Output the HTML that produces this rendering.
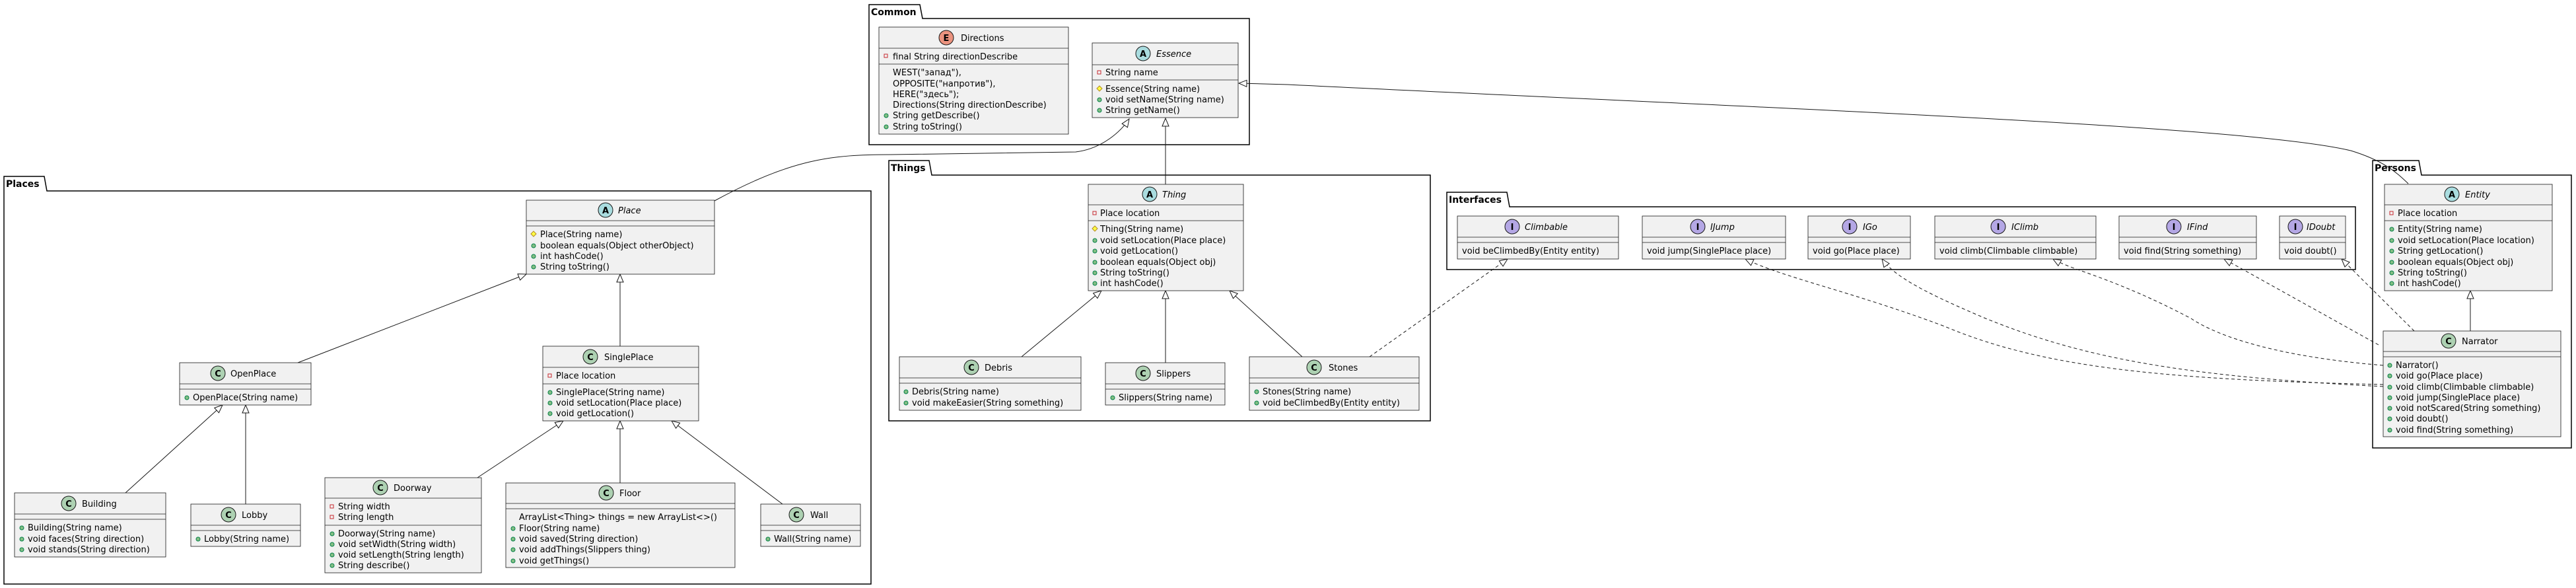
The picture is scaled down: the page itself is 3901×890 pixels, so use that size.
<!DOCTYPE html>
<html><head><meta charset="utf-8"><style>
html,body{margin:0;padding:0;background:#fff}
svg{display:block}
text{font-family:"DejaVu Sans","Liberation Sans",sans-serif;font-size:13px;fill:#000}
.pk{font-weight:bold;font-size:14px}
.it{font-style:italic}
.cls{fill:#F1F1F1;stroke:#181818;stroke-width:0.8}
.sep{stroke:#181818;stroke-width:0.8}
.pkg{fill:none;stroke:#000;stroke-width:1.5}
.pub{fill:#84BE84;stroke:#038048;stroke-width:1}
.pri{fill:none;stroke:#C82930;stroke-width:1}
.pro{fill:#FFFF44;stroke:#B38D22;stroke-width:1}
.ln{fill:none;stroke:#181818;stroke-width:1}
.dl{fill:none;stroke:#181818;stroke-width:1;stroke-dasharray:5,4}
.ic{font-weight:bold;font-size:13px;text-anchor:middle}
</style></head><body>
<svg width="3901" height="890" viewBox="0 0 3901 890" xmlns="http://www.w3.org/2000/svg">
<defs>
<marker id="tri" markerWidth="14" markerHeight="14" refX="13" refY="6" orient="auto" markerUnits="userSpaceOnUse">
<path d="M1,1 L13,6 L1,11 Z" fill="#fff" stroke="#181818" stroke-width="1"/>
</marker>
</defs>

<!-- Packages -->
<path class="pkg" d="M1316,28 V7 H1393 L1397,28 H1892 V219 H1316 Z"/>
<text class="pk" x="1319" y="23">Common</text>
<path class="pkg" d="M6,289 V267 H67 L71,289 H1319 V884 H6 Z"/>
<text class="pk" x="9" y="283">Places</text>
<path class="pkg" d="M1346,265 V243 H1407 L1411,265 H2166 V637 H1346 Z"/>
<text class="pk" x="1349" y="259">Things</text>
<path class="pkg" d="M2191,313 V291 H2282 L2286,313 H3567 V408 H2191 Z"/>
<text class="pk" x="2194" y="307">Interfaces</text>
<path class="pkg" d="M3593,265 V243 H3663 L3667,265 H3894 V678 H3593 Z"/>
<text class="pk" x="3596" y="259">Persons</text>

<!-- Connectors -->
<path class="ln" marker-end="url(#tri)" d="M1082,304 C1200,240 1260,234 1349,234 L1629,230 C1670,225 1698,198 1710,180"/>
<path class="ln" marker-end="url(#tri)" d="M1765,279 L1765,179"/>
<path class="ln" marker-end="url(#tri)" d="M3647,278 C3630,262 3612,244 3560,228 C3400,190 2700,165 1950,128 L1876,126"/>
<path class="ln" marker-end="url(#tri)" d="M451,549 L797,415"/>
<path class="ln" marker-end="url(#tri)" d="M939,524 L939,415"/>
<path class="ln" marker-end="url(#tri)" d="M190,746 L337,613"/>
<path class="ln" marker-end="url(#tri)" d="M372,763 L372,613"/>
<path class="ln" marker-end="url(#tri)" d="M723,723 L853,637"/>
<path class="ln" marker-end="url(#tri)" d="M939,731 L939,637"/>
<path class="ln" marker-end="url(#tri)" d="M1185,763 L1017,637"/>
<path class="ln" marker-end="url(#tri)" d="M1547,540 L1668,440"/>
<path class="ln" marker-end="url(#tri)" d="M1765,549 L1765,440"/>
<path class="ln" marker-end="url(#tri)" d="M1972,540 L1862,440"/>
<path class="ln" marker-end="url(#tri)" d="M3741,501 L3741,440"/>
<path class="dl" marker-end="url(#tri)" d="M2074,540 L2283,392"/>
<path class="dl" marker-end="url(#tri)" d="M3609,582 C3300,575 3100,560 2945,494 C2800,440 2700,420 2643,392"/>
<path class="dl" marker-end="url(#tri)" d="M3609,585 C3300,570 3150,540 3007,482 C2920,445 2870,420 2850,392"/>
<path class="dl" marker-end="url(#tri)" d="M3609,553 C3450,540 3360,510 3318,482 C3200,420 3140,410 3109,392"/>
<path class="dl" marker-end="url(#tri)" d="M3602,522 L3368,392"/>
<path class="dl" marker-end="url(#tri)" d="M3656,501 L3546,392"/>

<!-- Directions -->
<rect class="cls" x="1331" y="41" width="287" height="162"/>
<line class="sep" x1="1331" y1="73" x2="1618" y2="73"/><line class="sep" x1="1331" y1="97" x2="1618" y2="97"/>
<circle cx="1433" cy="57" r="11" fill="#EB937F" stroke="#181818"/><text class="ic" x="1433" y="62">E</text>
<text x="1455" y="62">Directions</text>
<rect class="pri" x="1339" y="82" width="5" height="5"/><text x="1352" y="90">final String directionDescribe</text>
<text x="1352" y="114">WEST("запад"),</text>
<text x="1352" y="131">OPPOSITE("напротив"),</text>
<text x="1352" y="147">HERE("здесь");</text>
<text x="1352" y="163">Directions(String directionDescribe)</text>
<circle class="pub" cx="1342" cy="175" r="3"/><text x="1352" y="179">String getDescribe()</text>
<circle class="pub" cx="1342" cy="192" r="3"/><text x="1352" y="196">String toString()</text>

<!-- Essence -->
<rect class="cls" x="1654" y="65" width="221" height="113"/>
<line class="sep" x1="1654" y1="98" x2="1875" y2="98"/><line class="sep" x1="1654" y1="121" x2="1875" y2="121"/>
<circle cx="1731" cy="81" r="11" fill="#A9DCDF" stroke="#181818"/><text class="ic" x="1731" y="86">A</text>
<text class="it" x="1751" y="86">Essence</text>
<rect class="pri" x="1662" y="107" width="5" height="5"/><text x="1674" y="114">String name</text>
<path class="pro" d="M1665,130 L1669,134 L1665,138 L1661,134 Z"/><text x="1674" y="139">Essence(String name)</text>
<circle class="pub" cx="1665" cy="151" r="3"/><text x="1674" y="155">void setName(String name)</text>
<circle class="pub" cx="1665" cy="167" r="3"/><text x="1674" y="171">String getName()</text>

<!-- Place -->
<rect class="cls" x="797" y="303" width="285" height="112"/>
<line class="sep" x1="797" y1="334" x2="1082" y2="334"/><line class="sep" x1="797" y1="342" x2="1082" y2="342"/>
<circle cx="917" cy="318" r="11" fill="#A9DCDF" stroke="#181818"/><text class="ic" x="917" y="323">A</text>
<text class="it" x="936" y="323">Place</text>
<path class="pro" d="M808,350 L812,354 L808,358 L804,354 Z"/><text x="818" y="359">Place(String name)</text>
<circle class="pub" cx="808" cy="372" r="3"/><text x="818" y="376">boolean equals(Object otherObject)</text>
<circle class="pub" cx="808" cy="388" r="3"/><text x="818" y="392">int hashCode()</text>
<circle class="pub" cx="808" cy="404" r="3"/><text x="818" y="408">String toString()</text>

<!-- OpenPlace -->
<rect class="cls" x="272" y="549" width="199" height="64"/>
<line class="sep" x1="272" y1="581" x2="471" y2="581"/><line class="sep" x1="272" y1="589" x2="471" y2="589"/>
<circle cx="330" cy="565" r="11" fill="#ADD1B2" stroke="#181818"/><text class="ic" x="330" y="570">C</text>
<text x="349" y="570">OpenPlace</text>
<circle class="pub" cx="283" cy="602" r="3"/><text x="292" y="606">OpenPlace(String name)</text>

<!-- SinglePlace -->
<rect class="cls" x="822" y="524" width="236" height="113"/>
<line class="sep" x1="822" y1="556" x2="1058" y2="556"/><line class="sep" x1="822" y1="581" x2="1058" y2="581"/>
<circle cx="894" cy="540" r="11" fill="#ADD1B2" stroke="#181818"/><text class="ic" x="894" y="545">C</text>
<text x="915" y="545">SinglePlace</text>
<rect class="pri" x="830" y="566" width="5" height="5"/><text x="842" y="573">Place location</text>
<circle class="pub" cx="833" cy="594" r="3"/><text x="842" y="598">SinglePlace(String name)</text>
<circle class="pub" cx="833" cy="610" r="3"/><text x="842" y="614">void setLocation(Place place)</text>
<circle class="pub" cx="833" cy="626" r="3"/><text x="842" y="630">void getLocation()</text>

<!-- Building -->
<rect class="cls" x="22" y="746" width="229" height="97"/>
<line class="sep" x1="22" y1="778" x2="251" y2="778"/><line class="sep" x1="22" y1="786" x2="251" y2="786"/>
<circle cx="104" cy="762" r="11" fill="#ADD1B2" stroke="#181818"/><text class="ic" x="104" y="767">C</text>
<text x="124" y="767">Building</text>
<circle class="pub" cx="33" cy="799" r="3"/><text x="42" y="803">Building(String name)</text>
<circle class="pub" cx="33" cy="816" r="3"/><text x="42" y="820">void faces(String direction)</text>
<circle class="pub" cx="33" cy="832" r="3"/><text x="42" y="836">void stands(String direction)</text>

<!-- Lobby -->
<rect class="cls" x="289" y="763" width="166" height="64"/>
<line class="sep" x1="289" y1="795" x2="455" y2="795"/><line class="sep" x1="289" y1="803" x2="455" y2="803"/>
<circle cx="346" cy="779" r="11" fill="#ADD1B2" stroke="#181818"/><text class="ic" x="346" y="784">C</text>
<text x="366" y="784">Lobby</text>
<circle class="pub" cx="300" cy="816" r="3"/><text x="309" y="820">Lobby(String name)</text>

<!-- Doorway -->
<rect class="cls" x="492" y="723" width="237" height="144"/>
<line class="sep" x1="492" y1="754" x2="729" y2="754"/><line class="sep" x1="492" y1="795" x2="729" y2="795"/>
<circle cx="576" cy="738" r="11" fill="#ADD1B2" stroke="#181818"/><text class="ic" x="576" y="743">C</text>
<text x="596" y="743">Doorway</text>
<rect class="pri" x="500" y="764" width="5" height="5"/><text x="512" y="771">String width</text>
<rect class="pri" x="500" y="780" width="5" height="5"/><text x="512" y="787">String length</text>
<circle class="pub" cx="503" cy="808" r="3"/><text x="512" y="812">Doorway(String name)</text>
<circle class="pub" cx="503" cy="824" r="3"/><text x="512" y="828">void setWidth(String width)</text>
<circle class="pub" cx="503" cy="840" r="3"/><text x="512" y="844">void setLength(String length)</text>
<circle class="pub" cx="503" cy="856" r="3"/><text x="512" y="860">String describe()</text>

<!-- Floor -->
<rect class="cls" x="766" y="731" width="347" height="128"/>
<line class="sep" x1="766" y1="762" x2="1113" y2="762"/><line class="sep" x1="766" y1="770" x2="1113" y2="770"/>
<circle cx="918" cy="746" r="11" fill="#ADD1B2" stroke="#181818"/><text class="ic" x="918" y="751">C</text>
<text x="938" y="751">Floor</text>
<text x="786" y="787">ArrayList&lt;Thing&gt; things = new ArrayList&lt;&gt;()</text>
<circle class="pub" cx="777" cy="800" r="3"/><text x="786" y="804">Floor(String name)</text>
<circle class="pub" cx="777" cy="816" r="3"/><text x="786" y="820">void saved(String direction)</text>
<circle class="pub" cx="777" cy="832" r="3"/><text x="786" y="836">void addThings(Slippers thing)</text>
<circle class="pub" cx="777" cy="849" r="3"/><text x="786" y="853">void getThings()</text>

<!-- Wall -->
<rect class="cls" x="1152" y="763" width="151" height="64"/>
<line class="sep" x1="1152" y1="795" x2="1303" y2="795"/><line class="sep" x1="1152" y1="803" x2="1303" y2="803"/>
<circle cx="1206" cy="779" r="11" fill="#ADD1B2" stroke="#181818"/><text class="ic" x="1206" y="784">C</text>
<text x="1227" y="784">Wall</text>
<circle class="pub" cx="1163" cy="816" r="3"/><text x="1172" y="820">Wall(String name)</text>

<!-- Thing -->
<rect class="cls" x="1648" y="279" width="235" height="161"/>
<line class="sep" x1="1648" y1="310" x2="1883" y2="310"/><line class="sep" x1="1648" y1="334" x2="1883" y2="334"/>
<circle cx="1741" cy="294" r="11" fill="#A9DCDF" stroke="#181818"/><text class="ic" x="1741" y="299">A</text>
<text class="it" x="1760" y="299">Thing</text>
<rect class="pri" x="1655" y="320" width="5" height="5"/><text x="1666" y="327">Place location</text>
<path class="pro" d="M1658,342 L1662,346 L1658,350 L1654,346 Z"/><text x="1666" y="351">Thing(String name)</text>
<circle class="pub" cx="1658" cy="364" r="3"/><text x="1666" y="368">void setLocation(Place place)</text>
<circle class="pub" cx="1658" cy="380" r="3"/><text x="1666" y="384">void getLocation()</text>
<circle class="pub" cx="1658" cy="397" r="3"/><text x="1666" y="401">boolean equals(Object obj)</text>
<circle class="pub" cx="1658" cy="413" r="3"/><text x="1666" y="417">String toString()</text>
<circle class="pub" cx="1658" cy="429" r="3"/><text x="1666" y="433">int hashCode()</text>

<!-- Debris -->
<rect class="cls" x="1362" y="540" width="275" height="81"/>
<line class="sep" x1="1362" y1="572" x2="1637" y2="572"/><line class="sep" x1="1362" y1="580" x2="1637" y2="580"/>
<circle cx="1471" cy="556" r="11" fill="#ADD1B2" stroke="#181818"/><text class="ic" x="1471" y="561">C</text>
<text x="1491" y="561">Debris</text>
<circle class="pub" cx="1372" cy="593" r="3"/><text x="1381" y="597">Debris(String name)</text>
<circle class="pub" cx="1372" cy="610" r="3"/><text x="1381" y="614">void makeEasier(String something)</text>

<!-- Slippers -->
<rect class="cls" x="1674" y="549" width="181" height="64"/>
<line class="sep" x1="1674" y1="581" x2="1855" y2="581"/><line class="sep" x1="1674" y1="589" x2="1855" y2="589"/>
<circle cx="1731" cy="565" r="11" fill="#ADD1B2" stroke="#181818"/><text class="ic" x="1731" y="570">C</text>
<text x="1751" y="570">Slippers</text>
<circle class="pub" cx="1685" cy="602" r="3"/><text x="1694" y="606">Slippers(String name)</text>

<!-- Stones -->
<rect class="cls" x="1892" y="540" width="257" height="81"/>
<line class="sep" x1="1892" y1="572" x2="2149" y2="572"/><line class="sep" x1="1892" y1="580" x2="2149" y2="580"/>
<circle cx="1990" cy="556" r="11" fill="#ADD1B2" stroke="#181818"/><text class="ic" x="1990" y="561">C</text>
<text x="2012" y="561">Stones</text>
<circle class="pub" cx="1903" cy="593" r="3"/><text x="1912" y="597">Stones(String name)</text>
<circle class="pub" cx="1903" cy="610" r="3"/><text x="1912" y="614">void beClimbedBy(Entity entity)</text>

<!-- Interfaces -->
<rect class="cls" x="2207" y="327" width="244" height="65"/>
<line class="sep" x1="2207" y1="359" x2="2451" y2="359"/><line class="sep" x1="2207" y1="367" x2="2451" y2="367"/>
<circle cx="2290" cy="343" r="11" fill="#B4A7E5" stroke="#181818"/><text class="ic" x="2290" y="348">I</text>
<text class="it" x="2309" y="348">Climbable</text>
<text x="2214" y="384">void beClimbedBy(Entity entity)</text>

<rect class="cls" x="2487" y="327" width="217" height="65"/>
<line class="sep" x1="2487" y1="359" x2="2704" y2="359"/><line class="sep" x1="2487" y1="367" x2="2704" y2="367"/>
<circle cx="2571" cy="343" r="11" fill="#B4A7E5" stroke="#181818"/><text class="ic" x="2571" y="348">I</text>
<text class="it" x="2590" y="348">IJump</text>
<text x="2494" y="384">void jump(SinglePlace place)</text>

<rect class="cls" x="2738" y="327" width="155" height="65"/>
<line class="sep" x1="2738" y1="359" x2="2893" y2="359"/><line class="sep" x1="2738" y1="367" x2="2893" y2="367"/>
<circle cx="2801" cy="343" r="11" fill="#B4A7E5" stroke="#181818"/><text class="ic" x="2801" y="348">I</text>
<text class="it" x="2821" y="348">IGo</text>
<text x="2745" y="384">void go(Place place)</text>

<rect class="cls" x="2930" y="327" width="244" height="65"/>
<line class="sep" x1="2930" y1="359" x2="3174" y2="359"/><line class="sep" x1="2930" y1="367" x2="3174" y2="367"/>
<circle cx="3026" cy="343" r="11" fill="#B4A7E5" stroke="#181818"/><text class="ic" x="3026" y="348">I</text>
<text class="it" x="3046" y="348">IClimb</text>
<text x="2937" y="384">void climb(Climbable climbable)</text>

<rect class="cls" x="3209" y="327" width="208" height="65"/>
<line class="sep" x1="3209" y1="359" x2="3417" y2="359"/><line class="sep" x1="3209" y1="367" x2="3417" y2="367"/>
<circle cx="3292" cy="343" r="11" fill="#B4A7E5" stroke="#181818"/><text class="ic" x="3292" y="348">I</text>
<text class="it" x="3312" y="348">IFind</text>
<text x="3216" y="384">void find(String something)</text>

<rect class="cls" x="3452" y="327" width="100" height="65"/>
<line class="sep" x1="3452" y1="359" x2="3552" y2="359"/><line class="sep" x1="3452" y1="367" x2="3552" y2="367"/>
<circle cx="3476" cy="343" r="11" fill="#B4A7E5" stroke="#181818"/><text class="ic" x="3476" y="348">I</text>
<text class="it" x="3493" y="348">IDoubt</text>
<text x="3459" y="384">void doubt()</text>

<!-- Entity -->
<rect class="cls" x="3611" y="279" width="254" height="161"/>
<line class="sep" x1="3611" y1="310" x2="3865" y2="310"/><line class="sep" x1="3611" y1="334" x2="3865" y2="334"/>
<circle cx="3713" cy="294" r="11" fill="#A9DCDF" stroke="#181818"/><text class="ic" x="3713" y="299">A</text>
<text class="it" x="3733" y="299">Entity</text>
<rect class="pri" x="3619" y="320" width="5" height="5"/><text x="3631" y="327">Place location</text>
<circle class="pub" cx="3622" cy="347" r="3"/><text x="3631" y="351">Entity(String name)</text>
<circle class="pub" cx="3622" cy="364" r="3"/><text x="3631" y="368">void setLocation(Place location)</text>
<circle class="pub" cx="3622" cy="380" r="3"/><text x="3631" y="384">String getLocation()</text>
<circle class="pub" cx="3622" cy="397" r="3"/><text x="3631" y="401">boolean equals(Object obj)</text>
<circle class="pub" cx="3622" cy="413" r="3"/><text x="3631" y="417">String toString()</text>
<circle class="pub" cx="3622" cy="429" r="3"/><text x="3631" y="433">int hashCode()</text>

<!-- Narrator -->
<rect class="cls" x="3609" y="501" width="269" height="160"/>
<line class="sep" x1="3609" y1="532" x2="3878" y2="532"/><line class="sep" x1="3609" y1="540" x2="3878" y2="540"/>
<circle cx="3708" cy="516" r="11" fill="#ADD1B2" stroke="#181818"/><text class="ic" x="3708" y="521">C</text>
<text x="3728" y="521">Narrator</text>
<circle class="pub" cx="3619" cy="553" r="3"/><text x="3628" y="557">Narrator()</text>
<circle class="pub" cx="3619" cy="569" r="3"/><text x="3628" y="573">void go(Place place)</text>
<circle class="pub" cx="3619" cy="586" r="3"/><text x="3628" y="590">void climb(Climbable climbable)</text>
<circle class="pub" cx="3619" cy="602" r="3"/><text x="3628" y="606">void jump(SinglePlace place)</text>
<circle class="pub" cx="3619" cy="618" r="3"/><text x="3628" y="622">void notScared(String something)</text>
<circle class="pub" cx="3619" cy="634" r="3"/><text x="3628" y="638">void doubt()</text>
<circle class="pub" cx="3619" cy="651" r="3"/><text x="3628" y="655">void find(String something)</text>
</svg>
</body></html>
